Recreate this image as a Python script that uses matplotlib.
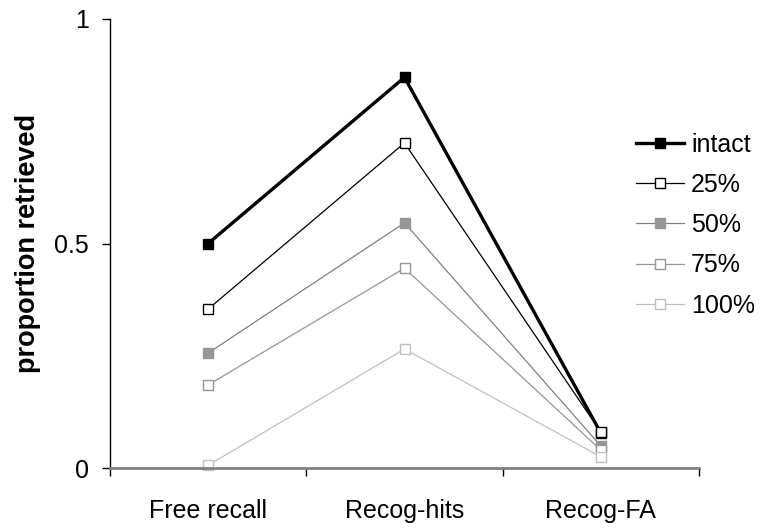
import matplotlib
matplotlib.use('Agg')
import matplotlib.pyplot as plt
from matplotlib.ticker import FixedLocator

plt.rcParams['font.family'] = ['Liberation Sans', 'DejaVu Sans']

categories = ['Free recall', 'Recog-hits', 'Recog-FA']
intact = [0.50, 0.87, 0.078]
p25 = [0.354, 0.724, 0.08]
p50 = [0.256, 0.546, 0.049]
p75 = [0.185, 0.445, 0.04]
p100 = [0.006, 0.265, 0.025]

series = [
    ('intact', intact, 'black', 'black', 'black', 2.4, 7),
    ('25%', p25, 'black', 'white', 'black', 0.9, 6.5),
    ('50%', p50, '#808080', '#969696', '#969696', 0.9, 6.5),
    ('75%', p75, '#969696', 'white', '#969696', 0.9, 6.5),
    ('100%', p100, '#c0c0c0', 'white', '#c0c0c0', 0.9, 6.5),
]

fig = plt.figure(figsize=(7.59, 5.29), dpi=100)
ax = fig.add_axes([110/759, 1-468/529, (699-110)/759, (468-19)/529])

x = range(len(categories))
for name, vals, lc, mfc, mec, lw, ms in series:
    ax.plot(x, vals, color=lc, lw=lw, marker='s', ms=ms, mfc=mfc, mec=mec,
            mew=1.0, label=name, clip_on=False)

ax.set_xlim(-0.5, 2.5)
ax.set_ylim(0, 1)
ax.set_yticks([0, 0.5, 1])
ax.set_yticklabels(['0', '0.5', '1'])
ax.set_xticks(list(x))
ax.set_xticklabels(categories)
ax.xaxis.set_minor_locator(FixedLocator([-0.5, 0.5, 1.5, 2.5]))
ax.tick_params(axis='x', which='major', length=0, pad=22, labelsize=18)
ax.tick_params(axis='x', which='minor', length=6, width=1, color='black', direction='out')
ax.tick_params(axis='y', length=6, width=1, direction='out', labelsize=18, pad=9)

for s in ['top', 'right']:
    ax.spines[s].set_visible(False)
ax.spines['left'].set_color('black')
ax.spines['left'].set_linewidth(1.0)
ax.spines['bottom'].set_color('#808080')
ax.spines['bottom'].set_linewidth(2.0)

ax.set_ylabel('proportion retrieved', fontsize=19.5, fontweight='bold', labelpad=10)

fig.legend(loc='center left', bbox_to_anchor=(636/759, 1-225/529),
           frameon=False, fontsize=18, handlelength=1.9, handletextpad=0.3,
           labelspacing=0.65, borderpad=0, borderaxespad=0)

fig.savefig('out.png', dpi=100)
